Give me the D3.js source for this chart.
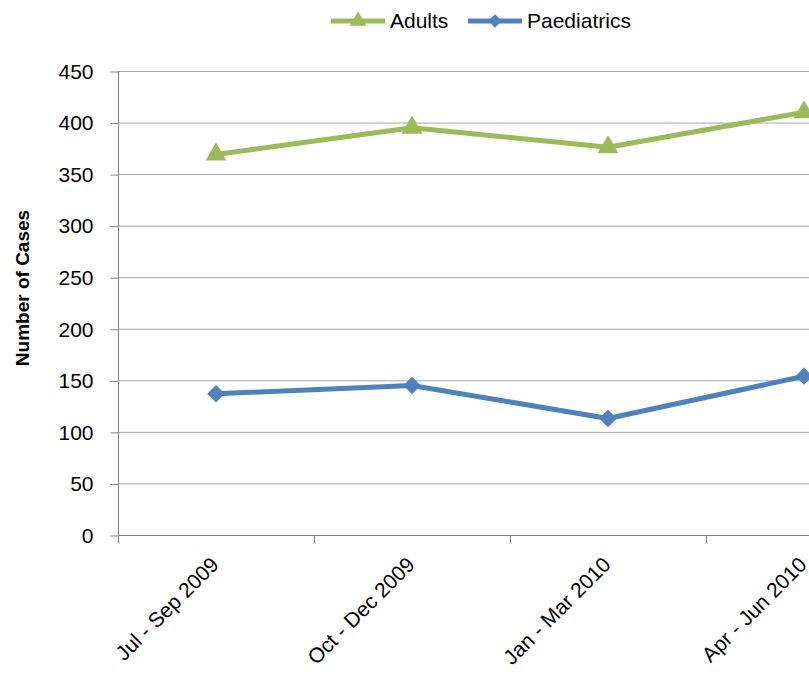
<!DOCTYPE html>
<html>
<head>
<meta charset="utf-8">
<script src="https://cdn.jsdelivr.net/npm/d3@7"></script>
<style>
  body { margin: 0; background: white; }
  svg { display: block; font-family: "Liberation Sans", Arial, sans-serif; }
</style>
</head>
<body>
<script>
// chart data
var quarters = ['Jul - Sep 2009', 'Oct - Dec 2009', 'Jan - Mar 2010', 'Apr - Jun 2010'];
var adults = [369, 395, 376, 410];
var paediatrics = [137, 145, 113, 154];
var yTicks = [0, 50, 100, 150, 200, 250, 300, 350, 400, 450];

var width = 809, height = 677;
var plotLeft = 118, plotBottom = 535, plotTop = 71;

var svg = d3.select('body').append('svg').attr('width', width).attr('height', height);

// the plot runs off the right edge of the picture
var x = d3.scaleBand().domain(quarters).range([plotLeft, plotLeft + 4 * 196]).padding(0);
var y = d3.scaleLinear().domain([0, 450]).range([plotBottom, plotTop]);

function cx(d, i) { return x(quarters[i]) + x.bandwidth() / 2; }

// gridlines
svg.append('g').selectAll('line')
    .data(yTicks.filter(function (d) { return d > 0; }))
    .enter().append('line')
    .attr('x1', plotLeft).attr('x2', width)
    .attr('y1', function (d) { return y(d) + 0.5; })
    .attr('y2', function (d) { return y(d) + 0.5; })
    .attr('stroke', '#a6a6a6').attr('stroke-width', 1);

// y axis
var yAxis = svg.append('g')
    .attr('transform', 'translate(' + (plotLeft + 0.5) + ',0.5)')
    .call(d3.axisLeft(y).tickValues(yTicks).tickSize(8).tickPadding(17));
yAxis.select('.domain').attr('stroke', '#868686').attr('d', 'M0,' + plotTop + 'V' + (plotBottom + 7));
yAxis.selectAll('.tick line').attr('stroke', '#868686');
yAxis.selectAll('.tick text').attr('font-size', 21).attr('fill', '#000')
    .style('font-family', '"Liberation Sans", Arial, sans-serif');

// x axis line + boundary ticks
svg.append('line')
    .attr('x1', plotLeft).attr('x2', width)
    .attr('y1', plotBottom + 0.5).attr('y2', plotBottom + 0.5)
    .attr('stroke', '#868686');
svg.append('g').selectAll('line')
    .data(quarters)
    .enter().append('line')
    .attr('x1', function (d) { return x(d) + 0.5; })
    .attr('x2', function (d) { return x(d) + 0.5; })
    .attr('y1', plotBottom).attr('y2', plotBottom + 8)
    .attr('stroke', '#868686');

// x labels, rotated
svg.append('g').selectAll('text')
    .data(quarters)
    .enter().append('text')
    .attr('transform', function (d) {
        return 'translate(' + (x(d) + x.bandwidth() / 2 + 4) + ',' + (plotBottom + 31) + ') rotate(-45)';
    })
    .attr('text-anchor', 'end')
    .attr('font-size', 21)
    .attr('fill', '#000')
    .text(function (d) { return d; });

// y title
svg.append('text')
    .attr('transform', 'translate(29,' + ((plotTop + plotBottom) / 2 - 15) + ') rotate(-90)')
    .attr('text-anchor', 'middle')
    .attr('font-size', 19)
    .attr('font-weight', 'bold')
    .text('Number of Cases');

var line = d3.line().x(cx).y(function (d) { return y(d); });

var triangle = d3.symbol().type(d3.symbolTriangle).size(190);
var diamond = d3.symbol().type(d3.symbolSquare).size(150);
var triangleSmall = d3.symbol().type(d3.symbolTriangle).size(120);
var diamondSmall = d3.symbol().type(d3.symbolSquare).size(90);

function drawSeries(values, color, marker, rot) {
    svg.append('path')
        .datum(values)
        .attr('d', line)
        .attr('fill', 'none')
        .attr('stroke', color)
        .attr('stroke-width', 5)
        .attr('stroke-linejoin', 'round');
    svg.append('g').selectAll('path')
        .data(values)
        .enter().append('path')
        .attr('d', marker)
        .attr('transform', function (d, i) {
            return 'translate(' + cx(d, i) + ',' + y(d) + ') rotate(' + rot + ')';
        })
        .attr('fill', color);
}

drawSeries(adults, '#9bbb59', triangle, 0);
drawSeries(paediatrics, '#4f81bd', diamond, 45);

// legend
var legend = [
    {name: 'Adults', color: '#9bbb59', marker: triangleSmall, rot: 0, x: 331},
    {name: 'Paediatrics', color: '#4f81bd', marker: diamondSmall, rot: 45, x: 468}
];
var lg = svg.append('g').selectAll('g').data(legend).enter().append('g')
    .attr('transform', function (d) { return 'translate(' + d.x + ',21)'; });
lg.append('line').attr('x1', 0).attr('x2', 54).attr('stroke', function (d) { return d.color; })
    .attr('stroke-width', 5);
lg.append('path').attr('d', function (d) { return d.marker(); })
    .attr('transform', function (d) { return 'translate(27,0) rotate(' + d.rot + ')'; })
    .attr('fill', function (d) { return d.color; });
lg.append('text').attr('x', 59).attr('y', 7).attr('font-size', 21)
    .text(function (d) { return d.name; });
</script>
</body>
</html>
